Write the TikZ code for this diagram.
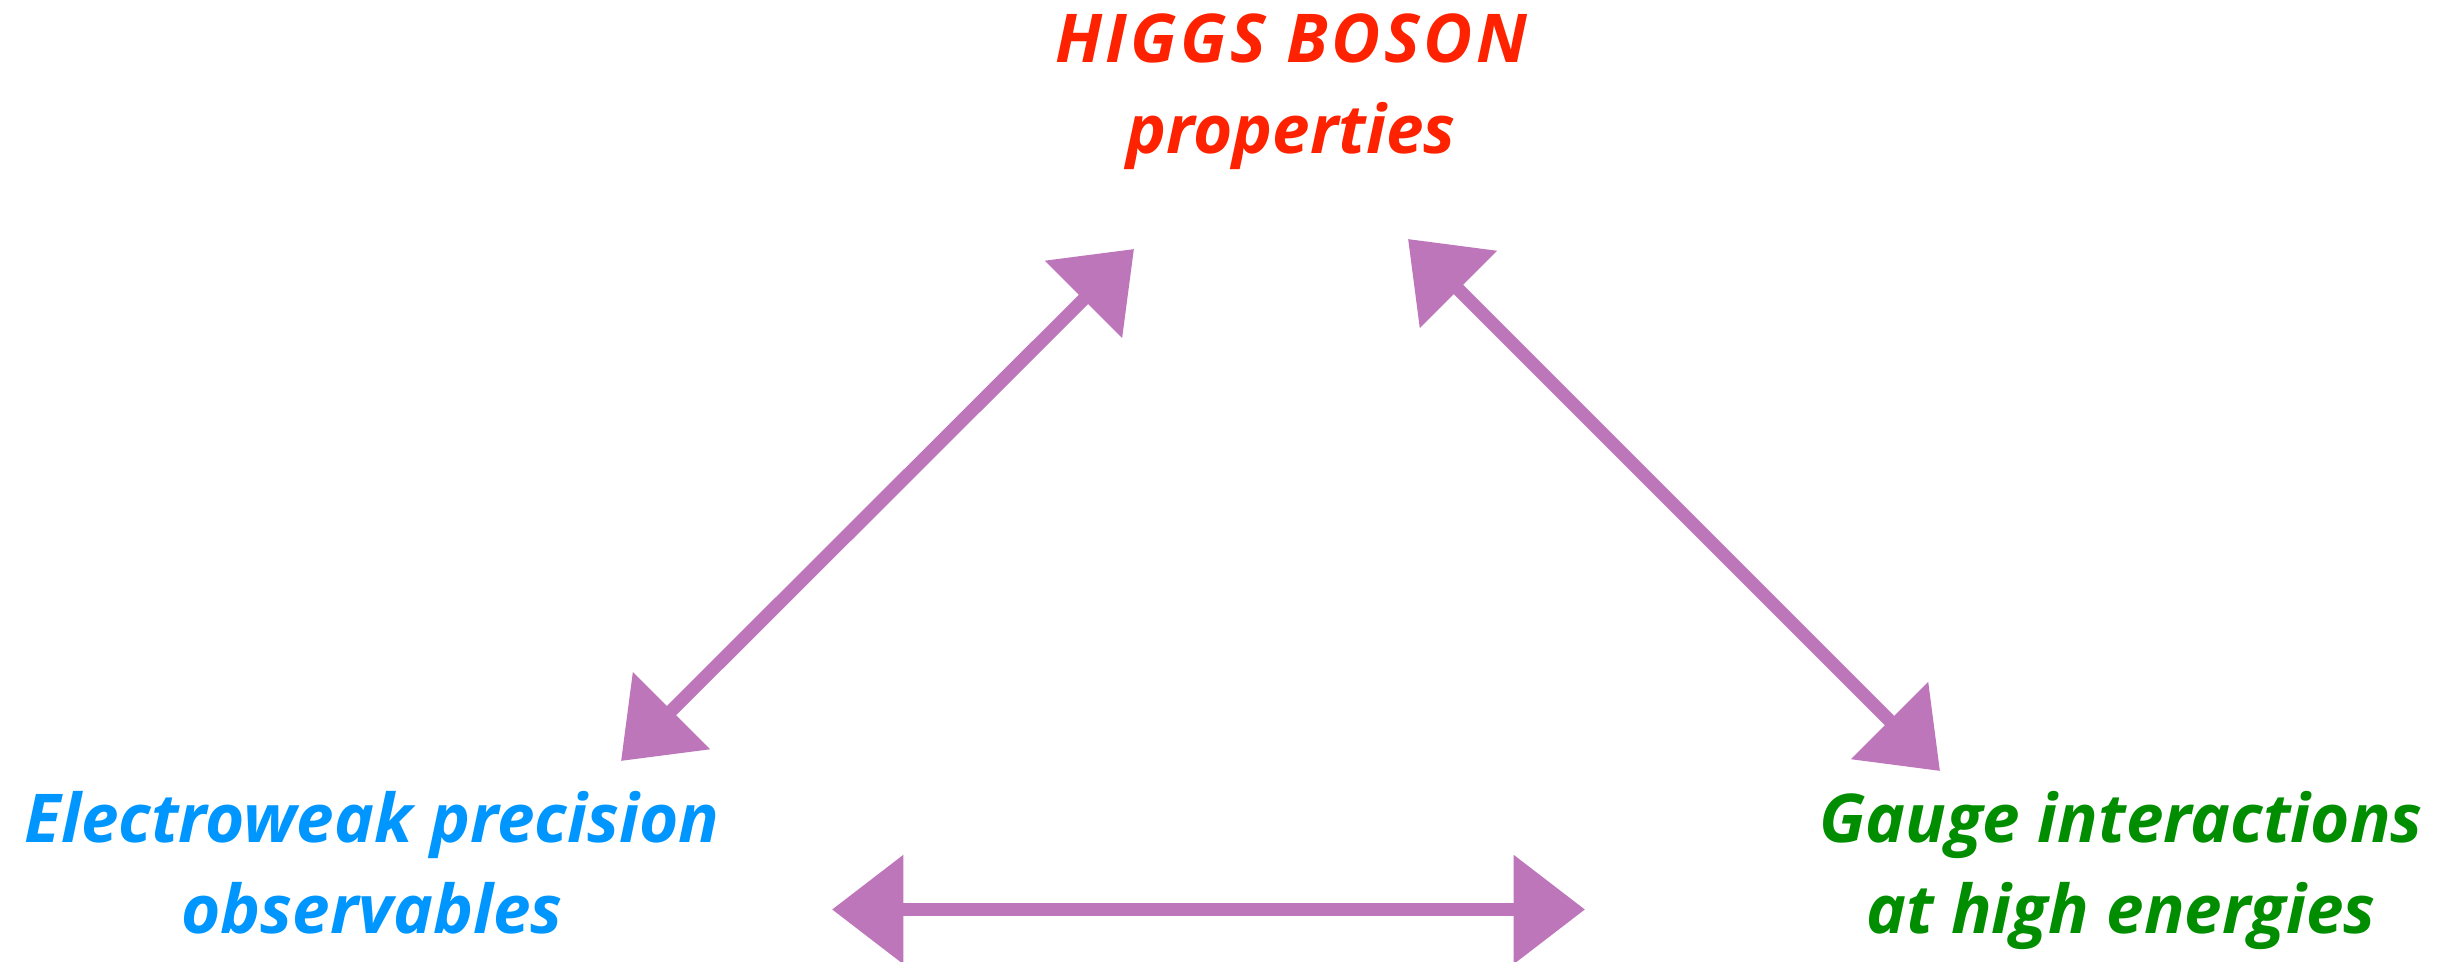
\documentclass[tikz,border=0pt]{standalone}
\usepackage{fontspec}
\setmainfont{Open Sans}
\usetikzlibrary{arrows.meta}
\definecolor{higgsred}{RGB}{255,34,0}
\definecolor{ewblue}{RGB}{0,150,255}
\definecolor{gaugegreen}{RGB}{0,142,0}
\definecolor{arrowpurple}{RGB}{190,118,187}
\tikzset{
  lbl/.style={font=\fontsize{20.2}{27.4}\selectfont\bfseries\itshape, align=center, anchor=base, inner sep=0pt},
  dblarrow/.style={draw=arrowpurple, line width=3.95pt,
    {Triangle[length=21.4pt,width=31.8pt]}-{Triangle[length=21.4pt,width=31.8pt]}}
}
\begin{document}
\begin{tikzpicture}[x=0.3pt,y=-0.3pt]
\useasboundingbox (0,0) rectangle (2461,962);
\node[lbl, text=higgsred] (higgs) at (1291,154) {{\addfontfeature{LetterSpace=5}HIGGS BOSON}\\properties};
\node[lbl, text=ewblue] (ew) at (372,934) {Electroweak precision\\observables};
\node[lbl, text=gaugegreen] (gauge) at (2121,934) {Gauge interactions\\at high energies};
\coordinate (hl) at (1134,249);
\coordinate (el) at (621,761);
\coordinate (hr) at (1408,239);
\coordinate (gr) at (1940,771);
\coordinate (eh) at (832,909.5);
\coordinate (gh) at (1585,909.5);
\draw[dblarrow] (el) -- (hl);
\draw[dblarrow] (hr) -- (gr);
\draw[dblarrow] (eh) -- (gh);
\end{tikzpicture}
\end{document}
